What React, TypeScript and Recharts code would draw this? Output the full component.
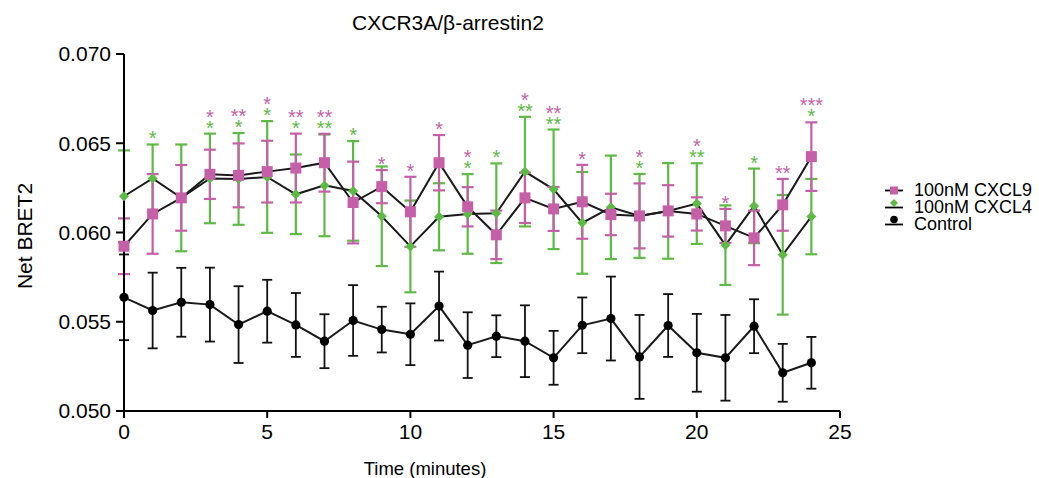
import { LineChart, Line, XAxis, YAxis, ErrorBar, LabelList, Legend } from 'recharts';

const FONT = '"Liberation Sans", Arial, Helvetica, sans-serif';
const PINK = '#C45FA8';
const GREEN = '#5DBA45';
const DARK = '#1a1a1a';

// time points (minutes)
const minutes = [0, 1, 2, 3, 4, 5, 6, 7, 8, 9, 10, 11, 12, 13, 14, 15, 16, 17, 18, 19, 20, 21, 22, 23, 24];

const cxcl9 = [0.05923, 0.06104, 0.06194, 0.06326, 0.0632, 0.06341, 0.06361, 0.06391, 0.06168, 0.06257, 0.06116, 0.06391, 0.06144, 0.05987, 0.06194, 0.06132, 0.06172, 0.06101, 0.06093, 0.06121, 0.06104, 0.06037, 0.0597, 0.06155, 0.06425];
const cxcl9Err = [0.00156, 0.00223, 0.00184, 0.00138, 0.00179, 0.00173, 0.00193, 0.00162, 0.00229, 0.00093, 0.00196, 0.00155, 0.0011, 0.00136, 0.00141, 0.00123, 0.00207, 0.00116, 0.00182, 0.00144, 0.00093, 0.00095, 0.00153, 0.00145, 0.00192];

const cxcl4 = [0.06203, 0.06303, 0.06194, 0.06303, 0.063, 0.06311, 0.06214, 0.06264, 0.06233, 0.06091, 0.05922, 0.06088, 0.06104, 0.06108, 0.06341, 0.06242, 0.06054, 0.06141, 0.06093, 0.06121, 0.06162, 0.05929, 0.06149, 0.05875, 0.06089];
const cxcl4Err = [0.00257, 0.0019, 0.00299, 0.00251, 0.00257, 0.00313, 0.00223, 0.00285, 0.00279, 0.00279, 0.00257, 0.00188, 0.00223, 0.00279, 0.00307, 0.00335, 0.00285, 0.0029, 0.00235, 0.00268, 0.00226, 0.00223, 0.00209, 0.00335, 0.00211];

const control = [0.05637, 0.05563, 0.05609, 0.05596, 0.05484, 0.05559, 0.05482, 0.05391, 0.05507, 0.05456, 0.0543, 0.05588, 0.05369, 0.05419, 0.05391, 0.05298, 0.0548, 0.05518, 0.05303, 0.05479, 0.05326, 0.05298, 0.05475, 0.05214, 0.0527];
const controlErr = [0.0024, 0.00212, 0.00193, 0.00207, 0.00215, 0.00176, 0.00179, 0.00151, 0.00198, 0.00128, 0.00173, 0.00193, 0.00184, 0.00117, 0.00201, 0.00151, 0.00156, 0.00235, 0.00235, 0.00176, 0.00218, 0.0024, 0.00151, 0.00162, 0.00145];

// significance marks vs control
const cxcl9Stars = ['', '', '', '*', '**', '*', '**', '**', '', '*', '*', '*', '*', '', '*', '**', '*', '', '*', '', '*', '*', '', '**', '***'];
const cxcl4Stars = ['', '*', '', '*', '*', '*', '*', '**', '*', '', '', '', '*', '*', '**', '**', '', '', '*', '', '**', '', '*', '', '*'];

const xTicks = [0, 5, 10, 15, 20, 25];
const yTicks = [0.05, 0.055, 0.06, 0.065, 0.07];
const seriesNames = ['100nM CXCL9', '100nM CXCL4', 'Control'];

const rows = minutes.map((t, i) => {
  const top9 = cxcl9[i] + cxcl9Err[i];
  const top4 = cxcl4[i] + cxcl4Err[i];
  let starBase: number | null = null;
  if (cxcl4Stars[i]) starBase = Math.max(top9, top4);
  else if (cxcl9Stars[i]) starBase = top9;
  return {
    t,
    c9: cxcl9[i],
    c9Err: cxcl9Err[i],
    c4: cxcl4[i],
    c4Err: cxcl4Err[i],
    ctrl: control[i],
    ctrlErr: controlErr[i],
    starBase,
  };
});

const squareDot = (p: any) =>
  p.cx == null ? null : (
    <rect key={`sq${p.index}`} x={p.cx - 5.5} y={p.cy - 5.5} width={11} height={11} fill={PINK} />
  );

const diamondDot = (p: any) =>
  p.cx == null ? null : (
    <polygon
      key={`dm${p.index}`}
      points={`${p.cx},${p.cy - 5} ${p.cx + 5},${p.cy} ${p.cx},${p.cy + 5} ${p.cx - 5},${p.cy}`}
      fill={GREEN}
    />
  );

const circleDot = (p: any) =>
  p.cx == null ? null : <circle key={`ci${p.index}`} cx={p.cx} cy={p.cy} r={4.6} fill="#000" />;

const renderStars = (props: any) => {
  const x = props.x ?? props.viewBox?.x;
  const y = props.y ?? props.viewBox?.y;
  const i = props.index;
  if (x == null || y == null || props.value == null) return null;
  const s4 = cxcl4Stars[i];
  const s9 = cxcl9Stars[i];
  const greenY = y - 10.5;
  const pinkY = s4 ? greenY - 11 : greenY;
  return (
    <g key={`st${i}`}>
      {s4 && (
        <text x={x} y={greenY + 11.5} textAnchor="middle" fill={GREEN} fontSize={20} fontFamily={FONT}>
          {s4}
        </text>
      )}
      {s9 && (
        <text x={x} y={pinkY + 11.5} textAnchor="middle" fill={PINK} fontSize={20} fontFamily={FONT}>
          {s9}
        </text>
      )}
    </g>
  );
};

const renderLegend = () => {
  const marks = [
    <rect x={10} y={11.5} width={8} height={8} fill={PINK} />,
    <polygon points="14,24 18,28 14,32 10,28" fill={GREEN} />,
    <circle cx={14} cy={44.5} r={3.8} fill="#000" />,
  ];
  const baselines = [20.5, 37.5, 54.5];
  return (
    <svg width={159} height={70} style={{ display: 'block' }}>
      {seriesNames.map((name, i) => (
        <g key={name}>
          <line x1={5} x2={23} y1={baselines[i] - 5} y2={baselines[i] - 5} stroke="#000" strokeWidth={1.8} />
          {marks[i]}
          <text x={34} y={baselines[i]} fontSize={18} fontFamily={FONT} fill="#000">
            {name}
          </text>
        </g>
      ))}
    </svg>
  );
};

export default function App() {
  return (
    <div style={{ position: 'absolute', left: 0, top: 0, width: 1039, height: 478, background: '#fff' }}>
      <LineChart
        width={1039}
        height={478}
        data={rows}
        margin={{ top: 54, right: 199, bottom: 27, left: 44 }}
      >
        <XAxis
          dataKey="t"
          type="number"
          domain={[0, 25]}
          ticks={xTicks}
          height={40}
          axisLine={{ stroke: '#000', strokeWidth: 2 }}
          tickLine={{ stroke: '#000', strokeWidth: 2 }}
          tickSize={7}
          tickMargin={6}
          tick={{ fill: '#000', fontSize: 21, fontFamily: FONT }}
        />
        <YAxis
          type="number"
          domain={[0.05, 0.07]}
          allowDataOverflow
          ticks={yTicks}
          tickFormatter={(v: number) => v.toFixed(3)}
          width={80}
          axisLine={{ stroke: '#000', strokeWidth: 2 }}
          tickLine={{ stroke: '#000', strokeWidth: 2 }}
          tickSize={8}
          tickMargin={5}
          tick={{ fill: '#000', fontSize: 21, fontFamily: FONT }}
        />
        <Legend
          content={renderLegend}
          layout="horizontal"
          verticalAlign="middle"
          align="center"
          wrapperStyle={{ left: 880, top: 175, width: 159, height: 70 }}
        />
        <Line
          dataKey="ctrl"
          type="linear"
          stroke={DARK}
          strokeWidth={2}
          dot={circleDot}
          activeDot={false}
          isAnimationActive={false}
        >
          <ErrorBar dataKey="ctrlErr" width={5} stroke="#111" strokeWidth={1.8} direction="y" isAnimationActive={false} />
        </Line>
        <Line
          dataKey="c4"
          type="linear"
          stroke={DARK}
          strokeWidth={2}
          dot={diamondDot}
          activeDot={false}
          isAnimationActive={false}
        >
          <ErrorBar dataKey="c4Err" width={6} stroke={GREEN} strokeWidth={2.2} direction="y" isAnimationActive={false} />
        </Line>
        <Line
          dataKey="c9"
          type="linear"
          stroke={DARK}
          strokeWidth={2}
          dot={squareDot}
          activeDot={false}
          isAnimationActive={false}
        >
          <ErrorBar dataKey="c9Err" width={6} stroke={PINK} strokeWidth={2.2} direction="y" isAnimationActive={false} />
        </Line>
        <Line
          dataKey="starBase"
          stroke="none"
          dot={false}
          activeDot={false}
          legendType="none"
          isAnimationActive={false}
        >
          <LabelList dataKey="starBase" content={renderStars} />
        </Line>
      </LineChart>
      <svg
        width={1039}
        height={478}
        style={{ position: 'absolute', left: 0, top: 0, pointerEvents: 'none' }}
      >
        <text x={448} y={30} textAnchor="middle" fontSize={21} fontFamily={FONT} fill="#000">
          CXCR3A/β-arrestin2
        </text>
        <text x={425} y={475} textAnchor="middle" fontSize={18.5} fontFamily={FONT} fill="#000">
          Time (minutes)
        </text>
        <text
          transform="translate(32,236) rotate(-90)"
          textAnchor="middle"
          fontSize={21}
          fontFamily={FONT}
          fill="#000"
        >
          Net BRET2
        </text>
      </svg>
    </div>
  );
}
